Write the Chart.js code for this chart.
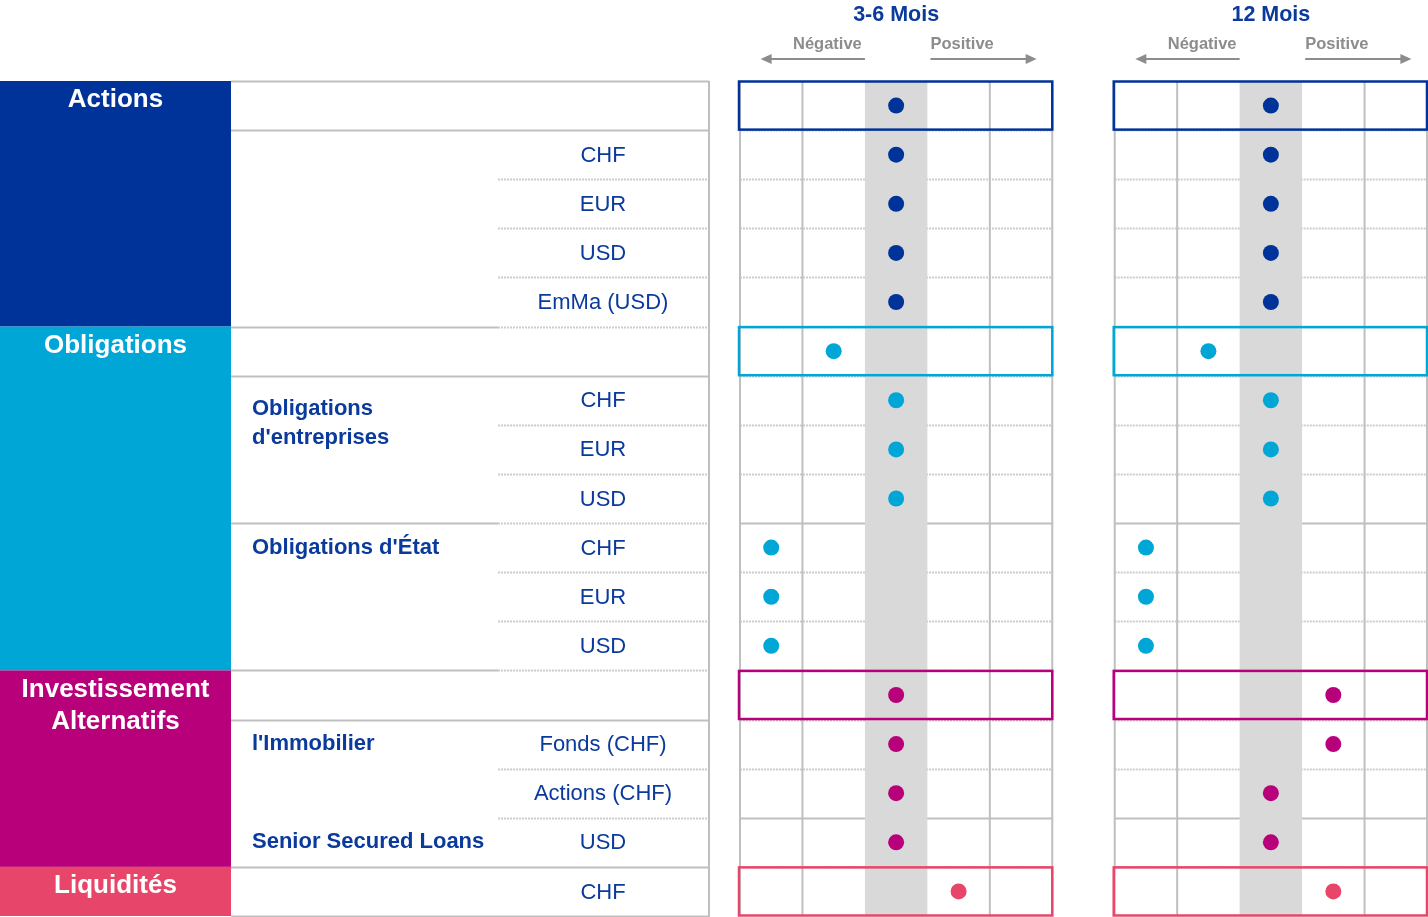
<!DOCTYPE html>
<html>
<head>
<meta charset="utf-8">
<script src="https://cdn.jsdelivr.net/npm/chart.js@4.4.1/dist/chart.umd.min.js"></script>
<style>
  html, body { margin: 0; padding: 0; background: #fff; overflow: hidden; }
  canvas { display: block; }
</style>
</head>
<body>
<canvas id="grid" width="1428" height="917"></canvas>
<script>
// ---- data ----
const horizons = ['3-6 Mois', '12 Mois'];
const rowLabels = ['', 'CHF', 'EUR', 'USD', 'EmMa (USD)',
  '', 'CHF', 'EUR', 'USD', 'CHF', 'EUR', 'USD',
  '', 'Fonds (CHF)', 'Actions (CHF)', 'USD',
  'CHF'];
// 1 = très négative ... 3 = neutre ... 5 = très positive
const view36 = [3, 3, 3, 3, 3, 2, 3, 3, 3, 1, 1, 1, 3, 3, 3, 3, 4];
const view12 = [3, 3, 3, 3, 3, 2, 3, 3, 3, 1, 1, 1, 4, 4, 3, 3, 4];
const groupNames = [['Actions'], ['Obligations'], ['Investissement', 'Alternatifs'], ['Liquidités']];
const groupFirstRow = [0, 5, 12, 16];
const groupLastRow = [4, 11, 15, 16];
const subNames = [['Obligations', "d'entreprises"], ["Obligations d'État"], ["l'Immobilier"], ['Senior Secured Loans']];
const subFirstRow = [6, 9, 13, 15];
const directionLabels = ['Négative', 'Positive'];

// ---- styles ----
const groupColors = ['#003399', '#00a6d6', '#b8007a', '#e8456a'];
const textBlue = '#0a3a9c';
const lineGray = '#bfbfbf';
const dotGray = '#cdcdcd';
const bandGray = '#d9d9d9';
const arrowGray = '#8c8c8c';
const FONT = '"Liberation Sans", Arial, sans-serif';
const blockRight = 231, tableRight = 709, subX = 252, codeLeft = 498, codeCenter = 603;
const fullRules = [0, 1, 6, 13, 16, 17];
const halfRules = [5, 9, 12];
const panelSolid = [9, 15];
const panelOffset = [0, 6];

function rowGroup(i) {
  return groupFirstRow.findIndex((r, g) => i >= r && i <= groupLastRow[g]);
}

const datasets = [view36, view12].map((vals, p) => ({
  label: horizons[p],
  data: vals.map((v, i) => ({ x: v + panelOffset[p], y: i + 0.5 })),
  pointRadius: 8,
  pointHoverRadius: 8,
  pointBorderWidth: 0,
  pointBackgroundColor: vals.map((v, i) => groupColors[rowGroup(i)]),
  showLine: false
}));

const tablePlugin = {
  id: 'table',
  beforeDatasetsDraw(chart) {
    const { ctx, scales: { x, y } } = chart;
    const Y = k => y.getPixelForValue(k);
    ctx.save();

    // colour blocks on the left
    groupFirstRow.forEach((r, g) => {
      ctx.fillStyle = groupColors[g];
      ctx.fillRect(0, Y(r), blockRight, Y(groupLastRow[g] + 1) - Y(r));
    });

    // left table rules
    const hline = (x1, x2, yy, dotted, color) => {
      ctx.beginPath();
      ctx.strokeStyle = color;
      ctx.lineWidth = 2;
      ctx.setLineDash(dotted ? [2, 1] : []);
      ctx.moveTo(x1, yy);
      ctx.lineTo(x2, yy);
      ctx.stroke();
    };
    for (let k = 0; k <= rowLabels.length; k++) {
      const yy = Math.round(Y(k)) + 0.5;
      if (fullRules.includes(k)) hline(blockRight, tableRight, yy, false, lineGray);
      else if (halfRules.includes(k)) {
        hline(blockRight, codeLeft, yy, false, lineGray);
        hline(codeLeft, tableRight, yy, true, dotGray);
      } else hline(codeLeft, tableRight, yy, true, dotGray);
    }
    ctx.setLineDash([]);
    ctx.strokeStyle = lineGray;
    ctx.lineWidth = 2;
    ctx.beginPath();
    ctx.moveTo(tableRight, Y(0));
    ctx.lineTo(tableRight, Y(rowLabels.length) + 1);
    ctx.stroke();

    // panels
    panelOffset.forEach(off => {
      const xl = x.getPixelForValue(off + 0.5), xr = x.getPixelForValue(off + 5.5);
      for (let k = 1; k < rowLabels.length; k++) {
        const yy = Math.round(Y(k)) + 0.5;
        const solid = panelSolid.includes(k);
        hline(xl, xr, yy, !solid, solid ? lineGray : dotGray);
      }
      ctx.setLineDash([]);
      ctx.strokeStyle = lineGray;
      ctx.lineWidth = 2;
      [0, 1, 4, 5].forEach(c => {
        const xx = x.getPixelForValue(off + 0.5 + c);
        ctx.beginPath();
        ctx.moveTo(xx, Y(0));
        ctx.lineTo(xx, Y(rowLabels.length));
        ctx.stroke();
      });
      // neutral column
      ctx.fillStyle = bandGray;
      const b1 = x.getPixelForValue(off + 2.5), b2 = x.getPixelForValue(off + 3.5);
      ctx.fillRect(b1, Y(0), b2 - b1, Y(rowLabels.length) - Y(0));
      // boxed headline rows
      ctx.lineWidth = 2.5;
      groupFirstRow.forEach((r, g) => {
        ctx.strokeStyle = groupColors[g];
        ctx.strokeRect(xl - 1, Y(r) + 0.5, xr - xl + 1, Y(r + 1) - Y(r) - 1);
      });
    });
    ctx.restore();
  },
  afterDatasetsDraw(chart) {
    const { ctx, scales: { x, y } } = chart;
    const Y = k => y.getPixelForValue(k);
    ctx.save();
    ctx.textBaseline = 'middle';

    // group names
    ctx.fillStyle = '#fff';
    ctx.textAlign = 'center';
    ctx.font = 'bold 26px ' + FONT;
    groupNames.forEach((lines, g) => {
      lines.forEach((t, j) => ctx.fillText(t, blockRight / 2, Y(groupFirstRow[g]) + 19 + j * 32));
    });

    // sub groups
    ctx.fillStyle = textBlue;
    ctx.textAlign = 'left';
    ctx.font = 'bold 22px ' + FONT;
    subNames.forEach((lines, s) => {
      const base = Y(subFirstRow[s] + 0.5) + (lines.length > 1 ? 9 : 0);
      lines.forEach((t, j) => ctx.fillText(t, subX, base + j * 29));
    });

    // row labels
    ctx.textAlign = 'center';
    ctx.font = '22px ' + FONT;
    rowLabels.forEach((t, i) => { if (t) ctx.fillText(t, codeCenter, Y(i + 0.5) + 1); });

    // panel headers
    panelOffset.forEach((off, p) => {
      ctx.fillStyle = textBlue;
      ctx.textAlign = 'center';
      ctx.font = 'bold 21.5px ' + FONT;
      ctx.fillText(horizons[p], x.getPixelForValue(off + 3), 15);

      ctx.fillStyle = arrowGray;
      ctx.font = 'bold 16.5px ' + FONT;
      ctx.textAlign = 'right';
      ctx.fillText(directionLabels[0], x.getPixelForValue(off + 2.45), 44);
      ctx.textAlign = 'left';
      ctx.fillText(directionLabels[1], x.getPixelForValue(off + 3.55), 44);

      const arrow = (from, to) => {
        const a = x.getPixelForValue(off + from), b = x.getPixelForValue(off + to);
        const dir = Math.sign(b - a), ay = 59;
        ctx.strokeStyle = arrowGray;
        ctx.lineWidth = 2;
        ctx.beginPath();
        ctx.moveTo(a, ay);
        ctx.lineTo(b - dir * 8, ay);
        ctx.stroke();
        ctx.beginPath();
        ctx.moveTo(b, ay);
        ctx.lineTo(b - dir * 11, ay - 5);
        ctx.lineTo(b - dir * 11, ay + 5);
        ctx.closePath();
        ctx.fill();
      };
      arrow(2.5, 0.83);
      arrow(3.55, 5.25);
    });
    ctx.restore();
  }
};

new Chart(document.getElementById('grid'), {
  type: 'scatter',
  data: { datasets },
  options: {
    responsive: false,
    animation: false,
    devicePixelRatio: 1,
    events: [],
    layout: { autoPadding: false, padding: { left: 740, top: 81, right: 1, bottom: 1 } },
    scales: {
      x: { type: 'linear', min: 0.5, max: 11.5, display: false },
      y: { type: 'linear', min: 0, max: 17, reverse: true, display: false }
    },
    plugins: { legend: { display: false }, tooltip: { enabled: false } }
  },
  plugins: [tablePlugin]
});
</script>
</body>
</html>
